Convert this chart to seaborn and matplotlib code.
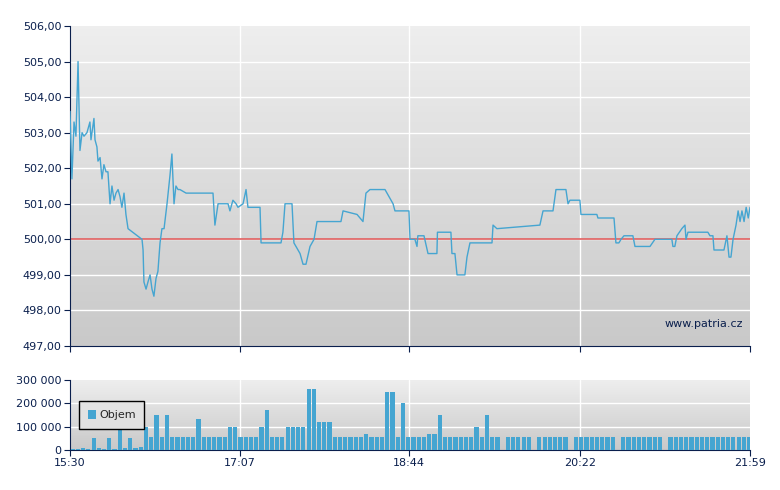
import matplotlib
matplotlib.use("Agg")
import matplotlib.pyplot as plt
from matplotlib.colors import LinearSegmentedColormap
import numpy as np
import seaborn as sns

# price path: minutes after 15:30 and price (CZK)
times = [0, 1.1, 2.3, 3.4, 4.6, 5.7, 6.9, 8, 9.7, 11.4, 12, 13.7, 14.3, 15.4, 16, 17.2,
         18.3, 19.4, 20.6, 21.7, 22.9, 24, 25.2, 26.3, 27.5, 28.6, 29.7, 30.9, 32, 33.2,
         41.2, 41.8, 42.3, 43.5, 44.6, 45.8, 46.9, 48, 49.2, 50.3, 51.5, 52.6, 53.8, 55.5,
         57.2, 58.3, 59.5, 60.6, 61.8, 62.9, 66.4, 67.5, 81.8, 82.9, 84.7, 90.4, 91.5, 93.2,
         95, 96.1, 99, 100.7, 101.8, 108.7, 109.3, 120.7, 121.8, 123, 127, 128.1, 131.6,
         133.3, 135, 137.3, 139.6, 141.3, 155, 156.2, 164.2, 167.6, 169.3, 171.6, 180.2,
         184.8, 185.9, 193.9, 194.5, 197.3, 198.5, 199, 202.5, 204.8, 209.9, 210.2, 217.9,
         218.5, 220.2, 221.4, 225.9, 227.1, 228.8, 241.4, 242, 244.2, 268.8, 270.6, 276.3,
         278, 283.7, 284.9, 286, 291.7, 292.3, 301.4, 302, 311.2, 312.3, 314, 315.2, 316.9,
         322, 323.2, 331.8, 334.6, 344.3, 344.9, 346, 347.2, 350, 351.8, 352.4, 353.5,
         364.9, 366.1, 367.8, 368.4, 374.1, 375.8, 377, 378.1, 379.3, 381, 382.2, 383.3,
         384.4, 385.6, 386.8, 388, 389]
prices = [503.6, 501.7, 503.3, 502.9, 505.0, 502.5, 503.0, 502.9, 503.0, 503.3, 502.8, 503.4,
          502.8, 502.6, 502.2, 502.3, 501.7, 502.1, 501.9, 501.9, 501.0, 501.5, 501.1, 501.3,
          501.4, 501.2, 500.9, 501.3, 500.7, 500.3, 500.0, 499.7, 498.8, 498.6, 498.8, 499.0,
          498.6, 498.4, 498.9, 499.1, 499.9, 500.3, 500.3, 501.0, 501.8, 502.4, 501.0, 501.5,
          501.4, 501.4, 501.3, 501.3, 501.3, 500.4, 501.0, 501.0, 500.8, 501.1, 501.0, 500.9,
          501.0, 501.4, 500.9, 500.9, 499.9, 499.9, 500.2, 501.0, 501.0, 499.9, 499.6, 499.3,
          499.3, 499.8, 500.0, 500.5, 500.5, 500.8, 500.7, 500.5, 501.3, 501.4, 501.4, 501.0,
          500.8, 500.8, 500.0, 500.0, 499.8, 500.1, 500.1, 499.6, 499.6, 500.2, 500.2, 499.6,
          499.6, 499.0, 499.0, 499.5, 499.9, 499.9, 500.4, 500.3, 500.4, 500.8, 500.8, 501.4,
          501.4, 501.0, 501.1, 501.1, 500.7, 500.7, 500.6, 500.6, 499.9, 499.9, 500.0, 500.1,
          500.1, 499.8, 499.8, 500.0, 500.0, 499.8, 499.8, 500.1, 500.3, 500.4, 500.0, 500.2,
          500.2, 500.1, 500.1, 499.7, 499.7, 500.1, 499.5, 499.5, 500.0, 500.4, 500.8, 500.5,
          500.8, 500.5, 500.9, 500.6, 500.9]
prev_close = 500.0

# volume per 3-minute slot, thousands of shares
volume_k = [5, 5, 10, 5, 50, 10, 5, 50, 5, 85, 10, 50, 10, 15, 100, 55, 150, 55, 150, 55, 55,
            55, 55, 55, 135, 55, 55, 55, 55, 55,
            100, 100, 55, 55, 55, 55, 100, 170, 55, 55,
            55, 100, 100, 100, 100, 260, 260, 120, 120, 120,
            55, 55, 55, 55, 55, 55, 70, 55, 55, 55,
            250, 250, 55, 200, 55, 55, 55, 55, 70, 70,
            150, 55, 55, 55, 55, 55, 55, 100, 55, 150,
            55, 55, 0, 55, 55, 55, 55, 55, 0, 55, 55, 55, 55, 55, 55, 0, 55, 55, 55, 55,
            55, 55, 55, 55, 0, 55, 55, 55, 55, 55, 55, 55, 55, 0, 55, 55, 55, 55, 55, 55,
            55, 55, 55, 55, 55, 55, 55, 55, 55, 55]

tick_min = [0, 97, 194, 292, 389]
tick_lbl = ["15:30", "17:07", "18:44", "20:22", "21:59"]

sns.set_style("white")
plt.rcParams['font.family'] = ['DejaVu Sans']
navy = "#0a1f4d"
blue = "#45a5d1"
bg_cmap = LinearSegmentedColormap.from_list("bg", ["#c9c9c9", "#eeeeee"])

fig = plt.figure(figsize=(7.8, 4.9), dpi=100)
ax = fig.add_axes([70/780, 1-346/490, 680/780, 320/490])
axv = fig.add_axes([70/780, 1-450/490, 680/780, 70/490])

def gradient(a, lo, hi):
    g = np.linspace(0, 1, 100).reshape(-1, 1)
    a.imshow(g, extent=[0, 389, lo, hi], aspect='auto', cmap=bg_cmap,
             vmin=0, vmax=1, origin='lower', zorder=0)

gradient(ax, 497, 506)
for y in range(498, 506):
    ax.axhline(y, color='white', lw=1, zorder=1)
for t in tick_min[1:-1]:
    ax.axvline(t, color='white', lw=1, zorder=1)
ax.axhline(prev_close, color='#e06060', lw=1.2, zorder=2)
sns.lineplot(x=times, y=prices, ax=ax, sort=False, color=blue, lw=1, zorder=3)
ax.set_xlim(0, 389)
ax.set_ylim(497, 506)
ax.set_yticks(range(497, 507))
ax.set_yticklabels([f"{v},00" for v in range(497, 507)])
ax.set_xticks(tick_min)
ax.set_xticklabels([])
ax.text(0.99, 0.06, "www.patria.cz", transform=ax.transAxes, ha='right', fontsize=8, color=navy)

gradient(axv, 0, 300000)
for y in (100000, 200000):
    axv.axhline(y, color='white', lw=1, zorder=1)
for t in tick_min[1:-1]:
    axv.axvline(t, color='white', lw=1, zorder=1)
slots = np.arange(len(volume_k)) * 3 + 1.5
axv.bar(slots, np.array(volume_k) * 1000, width=2.4, color=blue, linewidth=0,
        zorder=3, label="Objem")
axv.set_xlim(0, 389)
axv.set_ylim(0, 300000)
axv.set_yticks([0, 100000, 200000, 300000])
axv.set_yticklabels(["0", "100 000", "200 000", "300 000"])
axv.set_xticks(tick_min)
axv.set_xticklabels(tick_lbl)
leg = axv.legend(loc='lower left', bbox_to_anchor=(0.005, 0.22), fontsize=8, frameon=True,
                 fancybox=False, handlelength=0.7, handleheight=0.9, handletextpad=0.3,
                 borderpad=0.8)
leg.get_frame().set_edgecolor('black')
leg.get_frame().set_facecolor('#e2e2e2')
leg.get_frame().set_alpha(1)

for a in (ax, axv):
    for s in ('top', 'right'):
        a.spines[s].set_visible(False)
    a.spines['left'].set_color(navy)
    a.spines['bottom'].set_color(navy)
    a.tick_params(axis='both', colors=navy, labelsize=8, length=4, direction='out',
                  left=True, bottom=True, labelcolor=navy, pad=2)

fig.savefig("out.png", dpi=100, facecolor='white')
